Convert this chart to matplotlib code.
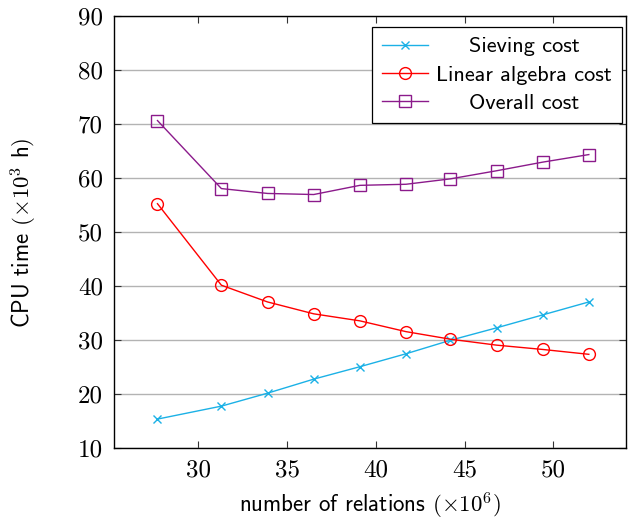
import numpy as np
import matplotlib
matplotlib.use("Agg")
import matplotlib.pyplot as plt

relations = [27.7, 31.3, 33.9, 36.5, 39.1, 41.7, 44.2, 46.8, 49.4, 52.0]
sieving = [15.4, 17.8, 20.2, 22.8, 25.1, 27.5, 30.0, 32.3, 34.7, 37.1]
linalg = [55.3, 40.2, 37.1, 34.9, 33.6, 31.6, 30.2, 29.1, 28.3, 27.4]
overall = [70.7, 58.1, 57.2, 57.0, 58.7, 58.9, 59.9, 61.4, 63.0, 64.4]

xticks = [30, 35, 40, 45, 50]
yticks = [10, 20, 30, 40, 50, 60, 70, 80, 90]

plt.rcParams['mathtext.fontset'] = 'cm'

fig = plt.figure(figsize=(6.28, 5.2), dpi=100)
ax = fig.add_axes([0.1815, 0.138, 0.8155, 0.8305])

ax.plot(relations, sieving, color='#1bb1e6', lw=1.0, marker='x', ms=6, mew=1.0,
        label='Sieving cost')
ax.plot(relations, linalg, color='#ff0000', lw=1.0, marker='o', ms=8.5, mfc='none', mew=1.0,
        label='Linear algebra cost')
ax.plot(relations, overall, color='#8b1a8b', lw=1.0, marker='s', ms=8.5, mfc='none', mew=1.0,
        label='Overall cost')

ax.set_xlim(25.25, 54.1)
ax.set_ylim(10, 90)
ax.set_xticks(xticks)
ax.set_yticks(yticks)
ax.set_xticklabels([str(v) for v in xticks], family='cmr10', fontsize=18)
ax.set_yticklabels([str(v) for v in yticks], family='cmr10', fontsize=18)
ax.tick_params(direction='in', length=5, width=0.8, color='#333333',
               top=True, right=True, pad=8)
ax.grid(axis='y', color='#b3b3b3', lw=1.0)
ax.set_axisbelow(True)
for s in ax.spines.values():
    s.set_linewidth(1.0)

ax.set_xlabel(r'number of relations $(\times 10^6)$', family='cmss10', fontsize=16.5, labelpad=7)
ax.set_ylabel(r'CPU time $(\times 10^3$ h$)$', family='cmss10', fontsize=16.5, labelpad=28)

leg = ax.legend(loc='upper right', bbox_to_anchor=(0.992, 0.976), fancybox=False,
                edgecolor='black', framealpha=1, prop={'family': 'cmss10', 'size': 16},
                handlelength=2.1, borderpad=0.45, labelspacing=0.4, handletextpad=0.35,
                borderaxespad=0)
leg.get_frame().set_linewidth(0.9)

fig.canvas.draw()
renderer = fig.canvas.get_renderer()
widths = [t.get_window_extent(renderer).width for t in leg.get_texts()]
shift = max(widths)
for t, w in zip(leg.get_texts(), widths):
    t.set_position(((shift - w) / 2, 0))

fig.savefig('out.png', dpi=100)
